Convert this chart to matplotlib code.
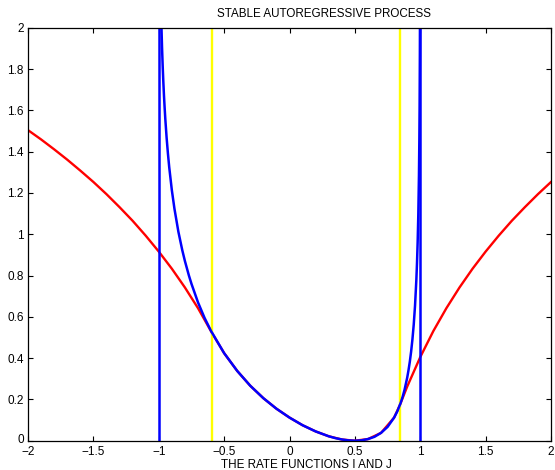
import matplotlib
matplotlib.use("Agg")
import matplotlib.pyplot as plt
from matplotlib.transforms import ScaledTranslation

plt.rcParams['font.family'] = ['Liberation Sans', 'DejaVu Sans']

# red curve (rate function I)
i_x = [-2.0, -1.9, -1.8, -1.7, -1.6, -1.5, -1.4, -1.3, -1.2, -1.1, -1.0, -0.9, -0.8, -0.7,
       -0.593, -0.5, -0.4, -0.3, -0.2, -0.1, 0.0, 0.1, 0.2, 0.3, 0.4, 0.5, 0.6, 0.7, 0.8,
       0.843, 0.9, 1.0, 1.1, 1.2, 1.3, 1.4, 1.5, 1.6, 1.7, 1.8, 1.9, 2.0]
i_y = [1.504, 1.459, 1.411, 1.361, 1.308, 1.253, 1.194, 1.131, 1.065, 0.993, 0.916, 0.833, 0.742, 0.642,
       0.522, 0.424, 0.338, 0.266, 0.206, 0.155, 0.112, 0.075, 0.045, 0.0215, 0.006, 0.0, 0.008, 0.038, 0.112,
       0.171, 0.262, 0.405, 0.531, 0.642, 0.742, 0.833, 0.916, 0.993, 1.065, 1.131, 1.194, 1.253]

# blue curve (rate function J), finite only inside (-1, 1)
j_x = [-0.99, -0.985, -0.98, -0.975, -0.97, -0.965, -0.96, -0.955, -0.95, -0.94, -0.93, -0.92,
       -0.9, -0.88, -0.85, -0.82, -0.8, -0.77, -0.75, -0.7, -0.65,
       -0.6, -0.5, -0.4, -0.3, -0.2, -0.1, 0.0, 0.1, 0.2, 0.3, 0.35, 0.4, 0.45, 0.5, 0.55, 0.6, 0.65,
       0.7, 0.75, 0.8, 0.825, 0.85, 0.865, 0.88, 0.9, 0.91, 0.92, 0.93, 0.94, 0.95, 0.96, 0.97,
       0.975, 0.98, 0.985, 0.99, 0.993, 0.995, 0.997, 0.998]
j_y = [2.362, 2.159, 2.015, 1.904, 1.813, 1.736, 1.669, 1.611, 1.558, 1.467, 1.391, 1.324,
       1.213, 1.123, 1.012, 0.922, 0.870, 0.801, 0.760, 0.670, 0.595,
       0.531, 0.424, 0.338, 0.266, 0.206, 0.155, 0.112, 0.075, 0.045, 0.0215, 0.0127, 0.006, 0.0016, 0.0, 0.0018, 0.008, 0.019,
       0.038, 0.067, 0.112, 0.143, 0.183, 0.212, 0.247, 0.305, 0.341, 0.382, 0.431, 0.490, 0.562, 0.654, 0.778,
       0.859, 0.960, 1.093, 1.285, 1.457, 1.621, 1.871, 2.072]

asymptotes = [-1.0, 1.0]
boundaries = [-0.593, 0.843]

xticks = [-2, -1.5, -1, -0.5, 0, 0.5, 1, 1.5, 2]
xlabels = ['\u22122', '\u22121.5', '\u22121', '\u22120.5', '0', '0.5', '1', '1.5', '2']
yticks = [0, 0.2, 0.4, 0.6, 0.8, 1, 1.2, 1.4, 1.6, 1.8, 2]
ylabels = ['0', '0.2', '0.4', '0.6', '0.8', '1', '1.2', '1.4', '1.6', '1.8', '2']

fig = plt.figure(figsize=(5.55, 4.70), dpi=100)
ax = fig.add_axes([0.0505, 0.0623, 0.9423, 0.8787])

ax.plot(i_x, i_y, color='#ff0000', lw=1.7)
for b in boundaries:
    ax.axvline(b, color='#ffff00', lw=1.7)
ax.plot(j_x, j_y, color='#0000ff', lw=1.8)
for a in asymptotes:
    ax.axvline(a, color='#0000ff', lw=1.8)

ax.set_xlim(-2, 2)
ax.set_ylim(0, 2)
ax.set_xticks(xticks)
ax.set_xticklabels(xlabels)
ax.set_yticks(yticks)
ax.set_yticklabels(ylabels)
ax.tick_params(direction='in', length=3.5, width=0.8, labelsize=8.5, top=True, right=True)
ax.tick_params(axis='x', pad=3.5)
ax.tick_params(axis='y', pad=3)
for s in ax.spines.values():
    s.set_linewidth(0.9)

# nudge the corner "0" up a little so it doesn't collide with "-2"
zero_lbl = ax.get_yticklabels()[0]
zero_lbl.set_transform(zero_lbl.get_transform() + ScaledTranslation(0, 1.5 / 72, fig.dpi_scale_trans))

fig.text(324 / 555, 1 - 14 / 470, 'STABLE AUTOREGRESSIVE PROCESS', ha='center', va='center', fontsize=8.4)
fig.text(306 / 555, 1 - 465 / 470, 'THE RATE FUNCTIONS I AND J', ha='center', va='center', fontsize=8.4)

fig.savefig('out.png', dpi=100)
